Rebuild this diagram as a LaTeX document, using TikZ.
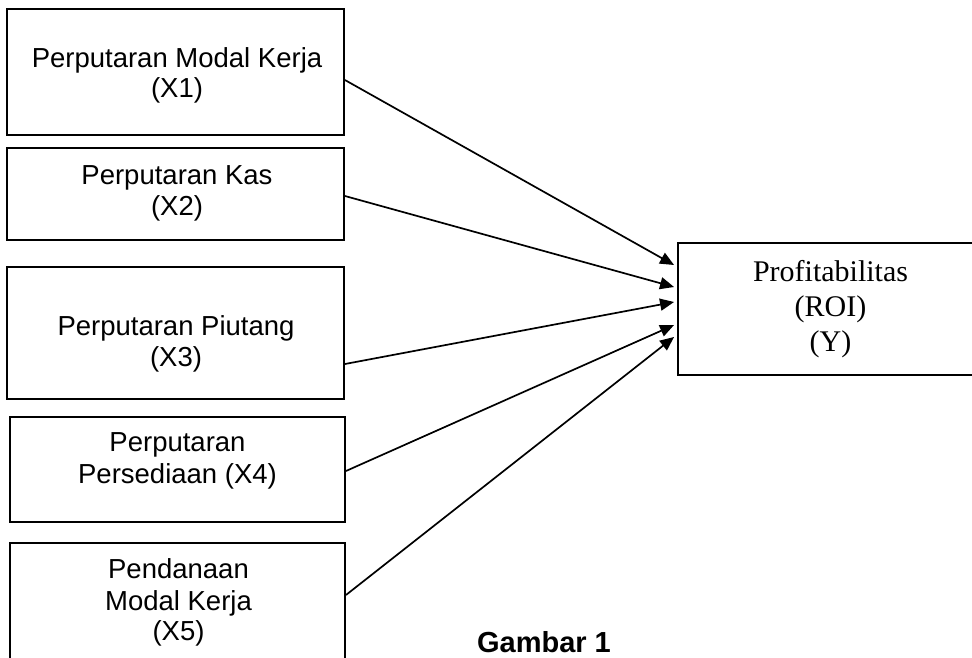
\documentclass[tikz,border=0pt]{standalone}
\usepackage{fontspec}
\setmainfont{Liberation Sans}
\newfontfamily\timesfont{Liberation Serif}
\usetikzlibrary{arrows.meta}
\begin{document}
\begin{tikzpicture}[x=1pt,y=-1pt,
  box/.style={draw=black,line width=1.9pt,inner sep=0pt},
  lbl/.style={anchor=base,inner sep=0pt,font=\fontsize{27.5}{31}\selectfont},
  rlbl/.style={anchor=base,inner sep=0pt,font=\timesfont\fontsize{30}{35}\selectfont},
  conn/.style={line width=1.7pt,-{Triangle[length=14pt,width=12pt]}}]
\clip (0,0) rectangle (972,657);
\fill[white] (0,0) rectangle (972,657);
% left boxes
\node[box,minimum width=337pt,minimum height=126pt] (b1) at (175.5,72) {};
\node[box,minimum width=337pt,minimum height=92pt] (b2) at (175.5,194) {};
\node[box,minimum width=337pt,minimum height=132pt] (b3) at (175.5,333) {};
\node[box,minimum width=335pt,minimum height=105pt] (b4) at (177.5,469.5) {};
\node[box,minimum width=335pt,minimum height=150pt] (b5) at (177.5,618) {};
% right box
\node[box,minimum width=310pt,minimum height=132pt] (y) at (833,309) {};
% texts
\node[lbl] (t1a) at (177,67) {Perputaran Modal Kerja};
\node[lbl] (t1b) at (177,97) {(X1)};
\node[lbl] (t2a) at (177,184) {Perputaran Kas};
\node[lbl] (t2b) at (177,215) {(X2)};
\node[lbl] (t3a) at (176,335) {Perputaran Piutang};
\node[lbl] (t3b) at (176,366.5) {(X3)};
\node[lbl] (t4a) at (177.5,451.5) {Perputaran};
\node[lbl] (t4b) at (177.5,483) {Persediaan (X4)};
\node[lbl] (t5a) at (178.5,578) {Pendanaan};
\node[lbl] (t5b) at (178.5,610) {Modal Kerja};
\node[lbl] (t5c) at (178.5,640) {(X5)};
\node[rlbl] (ya) at (830.5,281) {Profitabilitas};
\node[rlbl] (yb) at (830.5,316.5) {(ROI)};
\node[rlbl] (yc) at (830.5,351.5) {(Y)};
\node[anchor=base,inner sep=0pt,font=\bfseries\fontsize{29}{33}\selectfont] (cap) at (544,652) {Gambar 1};
% connector end points
\coordinate (s1) at (b1.east |- 0,80);
\coordinate (s2) at (b2.east |- 0,196);
\coordinate (s3) at (b3.east |- 0,364);
\coordinate (s4) at (b4.east |- 0,471);
\coordinate (s5) at (b5.east |- 0,595);
\coordinate (e1) at ([xshift=-3pt]y.west |- 0,265);
\coordinate (e2) at ([xshift=-3pt]y.west |- 0,287);
\coordinate (e3) at ([xshift=-3pt]y.west |- 0,302);
\coordinate (e4) at ([xshift=-3pt]y.west |- 0,325);
\coordinate (e5) at ([xshift=-3pt]y.west |- 0,337);
\draw[conn] (s1) -- (e1);
\draw[conn] (s2) -- (e2);
\draw[conn] (s3) -- (e3);
\draw[conn] (s4) -- (e4);
\draw[conn] (s5) -- (e5);
\end{tikzpicture}
\end{document}
